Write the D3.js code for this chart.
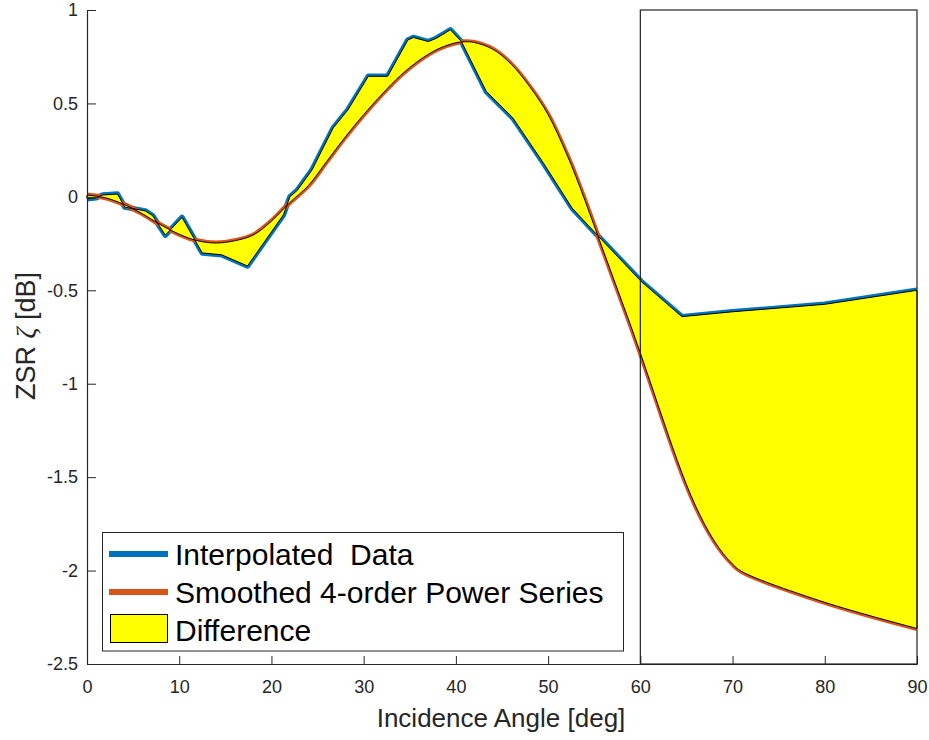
<!DOCTYPE html>
<html>
<head>
<meta charset="utf-8">
<script src="https://cdn.jsdelivr.net/npm/d3@7"></script>
<style>
  html, body { margin: 0; padding: 0; background: #fff; }
  svg { display: block; font-family: "Liberation Sans", Arial, Helvetica, sans-serif; }
</style>
</head>
<body>
<svg id="chart" width="929" height="740"></svg>
<script>
// Interpolated measurement (incidence angle in deg, ZSR in dB)
const blueX = [0, 1.0, 1.7, 3.3, 4.1, 6.3, 7.1, 8.5, 10.3, 12.5, 14.6, 17.4, 21.3, 22.0, 22.8,
  24.4, 25.6, 26.7, 28.3, 30.5, 32.6, 34.8, 35.4, 37.0, 37.9, 39.4, 40.6, 43.3, 46.2,
  49.5, 52.6, 55.3, 60.1, 64.5, 70, 80, 90];
const blueY = [-0.01, -0.005, 0.01, 0.015, -0.055, -0.075, -0.10, -0.205, -0.11, -0.30, -0.31, -0.37, -0.096, 0.0, 0.035,
  0.144, 0.262, 0.369, 0.466, 0.645, 0.645, 0.84, 0.853, 0.831, 0.849, 0.894, 0.831, 0.564, 0.421,
  0.18, -0.06, -0.203, -0.453, -0.641, -0.615, -0.575, -0.50];

// Smoothed 4th-order power series evaluated along the same angle range
const orangeX = [0, 2, 4, 6, 8, 10, 12, 14, 16, 18, 20, 22, 24, 26, 28, 30, 32, 34, 36, 38, 40, 41, 42,
  44, 46, 48, 50, 52, 53, 54, 55, 56, 57, 58, 59, 60, 61, 62, 63, 64, 65, 66, 67, 68, 69, 70, 71, 80, 90];
const orangeY = [0.01, -0.005, -0.04, -0.09, -0.15, -0.20, -0.235, -0.247, -0.235, -0.205, -0.13, -0.03, 0.06, 0.19, 0.32, 0.44, 0.55, 0.65, 0.73, 0.79, 0.825, 0.83, 0.826,
  0.79, 0.71, 0.59, 0.44, 0.23, 0.11, -0.02, -0.155, -0.29, -0.425, -0.56, -0.695, -0.835, -0.98, -1.125, -1.27, -1.41, -1.54, -1.655, -1.755, -1.84, -1.91, -1.965, -2.005, -2.17, -2.31];

const xTicks = [0, 10, 20, 30, 40, 50, 60, 70, 80, 90];
const xTickLabels = ["0", "10", "20", "30", "40", "50", "60", "70", "80", "90"];
const yTicks = [1, 0.5, 0, -0.5, -1, -1.5, -2, -2.5];
const yTickLabels = ["1", "0.5", "0", "-0.5", "-1", "-1.5", "-2", "-2.5"];

// Highlighted region (angle range and full value range)
const boxX = [60, 90];
const boxY = [1, -2.5];

const legendLabels = ["Interpolated  Data", "Smoothed 4-order Power Series", "Difference"];

const BLUE = "#0072BD", ORANGE = "#D95319", YELLOW = "#FFFF00", AXIS = "#262626";

const svg = d3.select("#chart");
const x = d3.scaleLinear().domain([0, 90]).range([87, 917]);
const y = d3.scaleLinear().domain([-2.5, 1]).range([664, 10]);

const blue = blueX.map((v, i) => [v, blueY[i]]);
const orange = orangeX.map((v, i) => [v, orangeY[i]]);

const lineLin = d3.line().x(d => x(d[0])).y(d => y(d[1]));
const lineSmooth = d3.line().x(d => x(d[0])).y(d => y(d[1])).curve(d3.curveCatmullRom.alpha(0.5));

// Lines
svg.append("path").attr("d", lineLin(blue))
  .attr("fill", "none").attr("stroke", BLUE).attr("stroke-width", 5.5)
  .attr("stroke-linejoin", "round");
svg.append("path").attr("d", lineSmooth(orange))
  .attr("fill", "none").attr("stroke", ORANGE).attr("stroke-width", 5)
  .attr("stroke-linejoin", "round");

// Difference patch: blue forward, smoothed curve backward
const back = lineSmooth(orange.slice().reverse()).replace(/^M/, "L");
svg.append("path").attr("d", lineLin(blue) + back + "Z")
  .attr("fill", YELLOW).attr("fill-rule", "nonzero")
  .attr("stroke", "#000").attr("stroke-width", 1).attr("stroke-linejoin", "round");

// Axes
const yAxis = d3.axisLeft(y).tickValues(yTicks)
  .tickFormat((d, i) => yTickLabels[i]).tickSizeInner(-9).tickSizeOuter(0).tickPadding(9);
const gy = svg.append("g").attr("transform", `translate(${x(0)},0)`).call(yAxis);
const xAxis = d3.axisBottom(x).tickValues(xTicks)
  .tickFormat((d, i) => xTickLabels[i]).tickSizeInner(-8).tickSizeOuter(0).tickPadding(16);
const gx = svg.append("g").attr("transform", `translate(0,${y(-2.5)})`).call(xAxis);

[gx, gy].forEach(g => {
  g.select(".domain").attr("stroke", AXIS).attr("stroke-width", 1.2);
  g.selectAll(".tick line").attr("stroke", AXIS).attr("stroke-width", 1);
  g.selectAll(".tick text").attr("fill", AXIS).style("font-size", "18px")
    .style("font-family", "'Liberation Sans', Arial, sans-serif");
});

// Highlight box
svg.append("rect")
  .attr("x", x(boxX[0])).attr("y", y(boxY[0]))
  .attr("width", x(boxX[1]) - x(boxX[0])).attr("height", y(boxY[1]) - y(boxY[0]))
  .attr("fill", "none").attr("stroke", "#222").attr("stroke-width", 1.2);

// Axis labels
svg.append("text").attr("x", 501).attr("y", 727).attr("text-anchor", "middle")
  .attr("fill", AXIS).style("font-size", "26px").text("Incidence Angle [deg]");

const yl = svg.append("text").attr("transform", "translate(35,336) rotate(-90)")
  .attr("text-anchor", "middle").attr("fill", AXIS).style("font-size", "27px");
yl.append("tspan").text("ZSR ");
yl.append("tspan").style("font-family", "'Liberation Serif', 'DejaVu Serif', serif")
  .style("font-style", "italic").text("ζ");
yl.append("tspan").text(" [dB]");

// Legend
const lg = svg.append("g");
lg.append("rect").attr("x", 102.5).attr("y", 532.5).attr("width", 521).attr("height", 118.5)
  .attr("fill", "#fff").attr("stroke", "#262626").attr("stroke-width", 1);
const rowY = [554, 592, 630];
lg.append("line").attr("x1", 109).attr("x2", 168).attr("y1", rowY[0]).attr("y2", rowY[0])
  .attr("stroke", BLUE).attr("stroke-width", 6);
lg.append("line").attr("x1", 109).attr("x2", 168).attr("y1", rowY[1]).attr("y2", rowY[1])
  .attr("stroke", ORANGE).attr("stroke-width", 6);
lg.append("rect").attr("x", 110.5).attr("y", rowY[2] - 15.5).attr("width", 57).attr("height", 28)
  .attr("fill", YELLOW).attr("stroke", "#000").attr("stroke-width", 1);
legendLabels.forEach((t, i) => {
  lg.append("text").attr("x", 175).attr("y", rowY[i] + 11).attr("fill", "#000")
    .style("font-size", "30px").style("white-space", "pre").attr("xml:space", "preserve").text(t);
});
</script>
</body>
</html>
